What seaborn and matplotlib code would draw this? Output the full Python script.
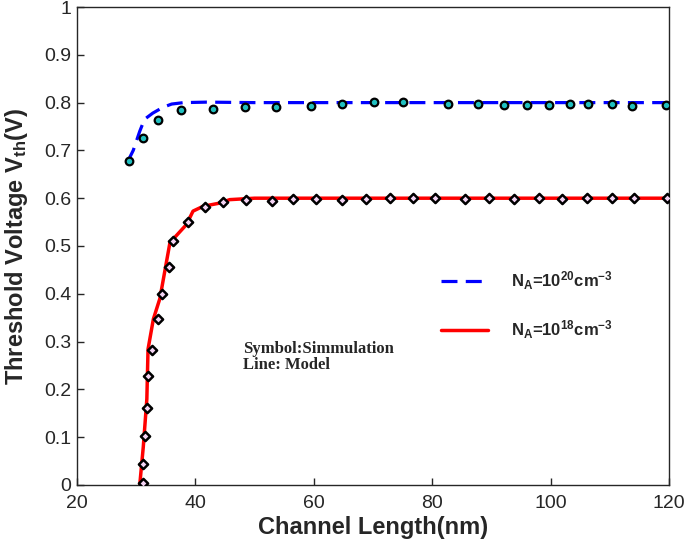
import matplotlib
matplotlib.use("Agg")
import matplotlib.pyplot as plt
import seaborn as sns
import pandas as pd
from matplotlib.ticker import FuncFormatter

# simulation points (symbols)
sim_x_1e20 = [28.8, 31.1, 33.6, 37.6, 43.0, 48.3, 53.6, 59.5, 64.8, 70.1, 75.0,
              82.7, 87.7, 92.2, 96.0, 99.7, 103.2, 106.4, 110.3, 113.8, 119.5]
sim_y_1e20 = [0.678, 0.727, 0.764, 0.785, 0.787, 0.791, 0.791, 0.793, 0.797, 0.801, 0.801,
              0.798, 0.798, 0.795, 0.795, 0.795, 0.797, 0.797, 0.797, 0.793, 0.794]

sim_x_1e18 = [31.2, 31.2, 31.5, 31.8, 32.0, 32.6, 33.6, 34.3, 35.5, 36.3, 38.7,
              41.7, 44.7, 48.5, 52.9, 56.5, 60.4, 64.7, 68.9, 72.9, 76.7,
              80.5, 85.5, 89.6, 93.9, 98.1, 102.0, 106.2, 110.3, 114.1, 119.6]
sim_y_1e18 = [0.005, 0.044, 0.103, 0.161, 0.228, 0.283, 0.347, 0.399, 0.457, 0.511, 0.551,
              0.582, 0.592, 0.596, 0.595, 0.599, 0.599, 0.597, 0.598, 0.600, 0.600,
              0.600, 0.598, 0.600, 0.598, 0.600, 0.598, 0.600, 0.600, 0.600, 0.600]

# model curves (lines)
mod_x_1e20 = [28.5, 29.5, 30.6, 31.4, 32.8, 34.5, 36.0, 38.0, 41.9, 50.0, 120.0]
mod_y_1e20 = [0.675, 0.700, 0.740, 0.765, 0.778, 0.790, 0.797, 0.800, 0.801, 0.800, 0.800]

mod_x_1e18 = [30.6, 31.2, 31.8, 32.0, 32.9, 34.0, 35.7, 38.5, 39.6, 41.3, 44.2, 45.8, 50.0, 120.0]
mod_y_1e18 = [0.0, 0.08, 0.18, 0.284, 0.347, 0.39, 0.507, 0.545, 0.573, 0.583, 0.590, 0.597, 0.600, 0.600]

lab_1e20 = r"N$_\mathbf{A}$=10$^\mathbf{20}$cm$^\mathbf{-3}$"
lab_1e18 = r"N$_\mathbf{A}$=10$^\mathbf{18}$cm$^\mathbf{-3}$"

sns.set_style("ticks")
plt.rcParams["font.family"] = ["Liberation Sans", "DejaVu Sans"]
plt.rcParams["mathtext.fontset"] = "custom"
plt.rcParams["mathtext.rm"] = "Liberation Sans"
plt.rcParams["mathtext.bf"] = "Liberation Sans:bold"
plt.rcParams["mathtext.default"] = "bf"

fig = plt.figure(figsize=(6.85, 5.44), dpi=100)
ax = fig.add_axes([0.1124, 0.1085, 0.8642, 0.8786])

df20 = pd.DataFrame({"L": mod_x_1e20, "Vth": mod_y_1e20})
df18 = pd.DataFrame({"L": mod_x_1e18, "Vth": mod_y_1e18})
sns.lineplot(data=df20, x="L", y="Vth", ax=ax, color="#0000ff", linewidth=2.3,
             label=lab_1e20, sort=False, zorder=2)
ax.lines[-1].set_dashes((5, 2.6))
sns.lineplot(data=df18, x="L", y="Vth", ax=ax, color="#ff0000", linewidth=2.5,
             label=lab_1e18, sort=False, zorder=2)

sns.scatterplot(x=sim_x_1e20, y=sim_y_1e20, ax=ax, marker="o", s=30,
                color="#20c0c0", edgecolor="black", linewidth=1.6, zorder=3, legend=False)
sns.scatterplot(x=sim_x_1e18, y=sim_y_1e18, ax=ax, marker="D", s=22,
                color="#f4d4f4", edgecolor="black", linewidth=1.8, zorder=3, legend=False)

ax.set_xlim(20, 120)
ax.set_ylim(0, 1)
ax.set_xticks([20, 40, 60, 80, 100, 120])
ax.set_yticks([i / 10 for i in range(11)])
ax.yaxis.set_major_formatter(FuncFormatter(lambda v, p: "%g" % round(v, 1)))
ax.tick_params(direction="in", length=5, width=1, labelsize=14)
ax.tick_params(axis="x", pad=7)
ax.tick_params(axis="y", pad=4)
for s in ax.spines.values():
    s.set_linewidth(1.0)
    s.set_visible(True)

ax.set_xlabel("Channel Length(nm)", fontsize=17, fontweight="bold", labelpad=3)
ax.set_ylabel(r"Threshold Voltage V$_\mathbf{th}$(V)", fontsize=17, fontweight="bold", labelpad=10)

leg = ax.legend(loc="center left", bbox_to_anchor=(0.59, 0.376), frameon=False,
                fontsize=12, handlelength=2.8, handletextpad=1.4, labelspacing=1.6)
for t in leg.get_texts():
    t.set_fontweight("bold")

ax.text(0.280, 0.268, "Symbol:Simmulation\nLine: Model", transform=ax.transAxes,
        fontsize=12, fontweight="bold", family=["Liberation Serif", "DejaVu Serif"],
        va="center", ha="left", linespacing=1.0)

fig.savefig("out.png", dpi=100)
